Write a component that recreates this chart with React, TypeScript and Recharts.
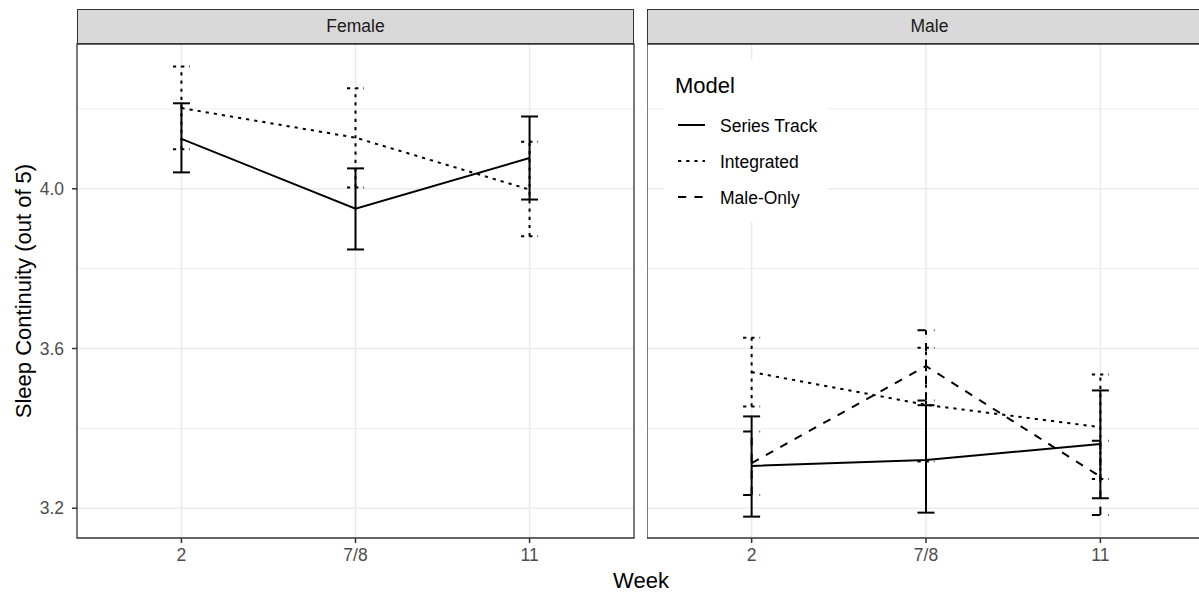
import React from 'react';
import { LineChart, Line, XAxis, YAxis, CartesianGrid, ErrorBar, ReferenceArea, Legend } from 'recharts';

// ---- data ----
const weeks = ['2', '7/8', '11'];
const facets = ['Female', 'Male'];
const models = ['Series Track', 'Integrated', 'Male-Only'];

const femaleSeriesMean = [4.125, 3.95, 4.077];
const femaleSeriesLow = [4.041, 3.848, 3.973];
const femaleSeriesHigh = [4.214, 4.051, 4.181];

const femaleIntegratedMean = [4.202, 4.128, 3.998];
const femaleIntegratedLow = [4.099, 4.003, 3.881];
const femaleIntegratedHigh = [4.306, 4.252, 4.118];

const maleSeriesMean = [3.306, 3.321, 3.361];
const maleSeriesLow = [3.179, 3.189, 3.225];
const maleSeriesHigh = [3.43, 3.458, 3.495];

const maleIntegratedMean = [3.541, 3.459, 3.403];
const maleIntegratedLow = [3.455, 3.317, 3.273];
const maleIntegratedHigh = [3.627, 3.602, 3.535];

const maleOnlyMean = [3.313, 3.556, 3.279];
const maleOnlyLow = [3.233, 3.47, 3.183];
const maleOnlyHigh = [3.392, 3.646, 3.369];

const yTicks = [3.2, 3.6, 4.0];
const yMinorTicks = [3.4, 3.8, 4.2];
const yDomain: [number, number] = [3.1255, 4.3625];
const xDomain: [number, number] = [-0.6, 2.6];
const xTicks = [0, 1, 2];

// ---- styles ----
const FONT = '"Liberation Sans", Arial, Helvetica, sans-serif';
const DASH: Record<string, string | undefined> = {
  'Series Track': undefined,
  Integrated: '3.2 5',
  'Male-Only': '8.2 8.2',
};
const GRID = '#EBEBEB';
const BORDER = '#333333';
const LW = 2;
const SMALL = 17.5;
const BIG = 22;

type Row = { x: number; [k: string]: any };

function addSeries(rows: Row[], key: string, mean: number[], low: number[], high: number[]) {
  mean.forEach((m, i) => {
    rows[i][key] = m;
    rows[i][key + 'Err'] = [m - low[i], high[i] - m];
  });
}

const femaleRows: Row[] = weeks.map((_, i) => ({ x: i }));
addSeries(femaleRows, 'st', femaleSeriesMean, femaleSeriesLow, femaleSeriesHigh);
addSeries(femaleRows, 'int', femaleIntegratedMean, femaleIntegratedLow, femaleIntegratedHigh);

const maleRows: Row[] = weeks.map((_, i) => ({ x: i }));
addSeries(maleRows, 'st', maleSeriesMean, maleSeriesLow, maleSeriesHigh);
addSeries(maleRows, 'int', maleIntegratedMean, maleIntegratedLow, maleIntegratedHigh);
addSeries(maleRows, 'mo', maleOnlyMean, maleOnlyLow, maleOnlyHigh);

const seriesKeys: Record<string, string> = { 'Series Track': 'st', Integrated: 'int', 'Male-Only': 'mo' };

function renderSeries(name: string) {
  const key = seriesKeys[name];
  const dash = DASH[name];
  return (
    <Line
      key={key}
      name={name}
      dataKey={key}
      type="linear"
      stroke="#000"
      strokeWidth={LW}
      strokeDasharray={dash}
      dot={false}
      activeDot={false}
      isAnimationActive={false}
    >
      <ErrorBar
        dataKey={key + 'Err'}
        width={8.5}
        stroke="#000"
        strokeWidth={LW}
        strokeDasharray={dash}
        direction="y"
        isAnimationActive={false}
      />
    </Line>
  );
}

const LegendBox = () => {
  const rowsY = [65, 101, 137];
  return (
    <svg width={164} height={162} style={{ display: 'block' }}>
      <rect x={0} y={0} width={164} height={162} fill="#FFFFFF" />
      <text x={11} y={33} fontSize={BIG} fill="#000" fontFamily={FONT}>Model</text>
      {models.map((m, i) => (
        <g key={m}>
          <line x1={14} x2={41} y1={rowsY[i]} y2={rowsY[i]} stroke="#000" strokeWidth={LW} strokeDasharray={DASH[m]} />
          <text x={56} y={rowsY[i] + 6.5} fontSize={SMALL} fill="#000" fontFamily={FONT}>{m}</text>
        </g>
      ))}
    </svg>
  );
};

function Panel({ rows, names, showY, legend }: { rows: Row[]; names: string[]; showY: boolean; legend?: boolean }) {
  const width = showY ? 640 : 564;
  return (
    <LineChart
      width={width}
      height={595}
      data={rows}
      margin={{ top: 44, right: 6, bottom: 27, left: 0 }}
      style={{ fontFamily: FONT }}
    >
      <CartesianGrid horizontalValues={yMinorTicks} vertical={false} stroke={GRID} strokeWidth={0.9} />
      <CartesianGrid horizontalValues={yTicks} verticalValues={xTicks} stroke={GRID} strokeWidth={1.5} />
      <XAxis
        dataKey="x"
        type="number"
        domain={xDomain}
        ticks={xTicks}
        allowDataOverflow
        tickFormatter={(v: number) => weeks[v]}
        axisLine={false}
        tickLine={{ stroke: BORDER, strokeWidth: 1.5 }}
        tickSize={5}
        tickMargin={6}
        height={30}
        tick={{ fill: '#4D4D4D', fontSize: SMALL, fontFamily: FONT }}
        interval={0}
      />
      <YAxis
        type="number"
        domain={yDomain}
        ticks={yTicks}
        allowDataOverflow
        hide={!showY}
        width={77}
        axisLine={false}
        tickLine={{ stroke: BORDER, strokeWidth: 1.5 }}
        tickSize={5}
        tickMargin={8}
        tickFormatter={(v: number) => v.toFixed(1)}
        tick={{ fill: '#4D4D4D', fontSize: SMALL, fontFamily: FONT }}
      />
      <ReferenceArea
        x1={xDomain[0]}
        x2={xDomain[1]}
        y1={yDomain[0]}
        y2={yDomain[1]}
        fill="none"
        fillOpacity={0}
        stroke={BORDER}
        strokeWidth={1.3}
        ifOverflow="visible"
      />
      {legend && (
        <Legend
          layout="vertical"
          align="center"
          verticalAlign="middle"
          content={() => <LegendBox />}
          wrapperStyle={{ left: 17, top: 60, width: 164, height: 162 }}
        />
      )}
      {names.map(renderSeries)}
    </LineChart>
  );
}

const stripStyle = (left: number, width: number): React.CSSProperties => ({
  position: 'absolute',
  left,
  top: 9,
  width,
  height: 35,
  boxSizing: 'border-box',
  background: '#D9D9D9',
  border: `1.3px solid ${BORDER}`,
  display: 'flex',
  alignItems: 'center',
  justifyContent: 'center',
  fontFamily: FONT,
  fontSize: SMALL,
  color: '#1A1A1A',
});

export default function App() {
  return (
    <div
      style={{
        position: 'absolute',
        left: 0,
        top: 0,
        width: 1199,
        height: 595,
        overflow: 'hidden',
        background: '#FFFFFF',
        fontFamily: FONT,
      }}
    >
      <div style={{ position: 'absolute', left: 0, top: 0 }}>
        <Panel rows={femaleRows} names={['Series Track', 'Integrated']} showY />
      </div>
      <div style={{ position: 'absolute', left: 647, top: 0 }}>
        <Panel rows={maleRows} names={models} showY={false} legend />
      </div>
      <div style={stripStyle(77, 557)}>{facets[0]}</div>
      <div style={stripStyle(647, 565)}>{facets[1]}</div>
      <svg width={1199} height={595} style={{ position: 'absolute', left: 0, top: 0, pointerEvents: 'none' }}>
        <text x={641} y={588} textAnchor="middle" fontSize={BIG} fill="#000" fontFamily={FONT}>Week</text>
        <text
          x={23}
          y={291}
          textAnchor="middle"
          dominantBaseline="central"
          fontSize={BIG}
          fill="#000"
          fontFamily={FONT}
          transform="rotate(-90 23 291)"
        >
          Sleep Continuity (out of 5)
        </text>
      </svg>
    </div>
  );
}
